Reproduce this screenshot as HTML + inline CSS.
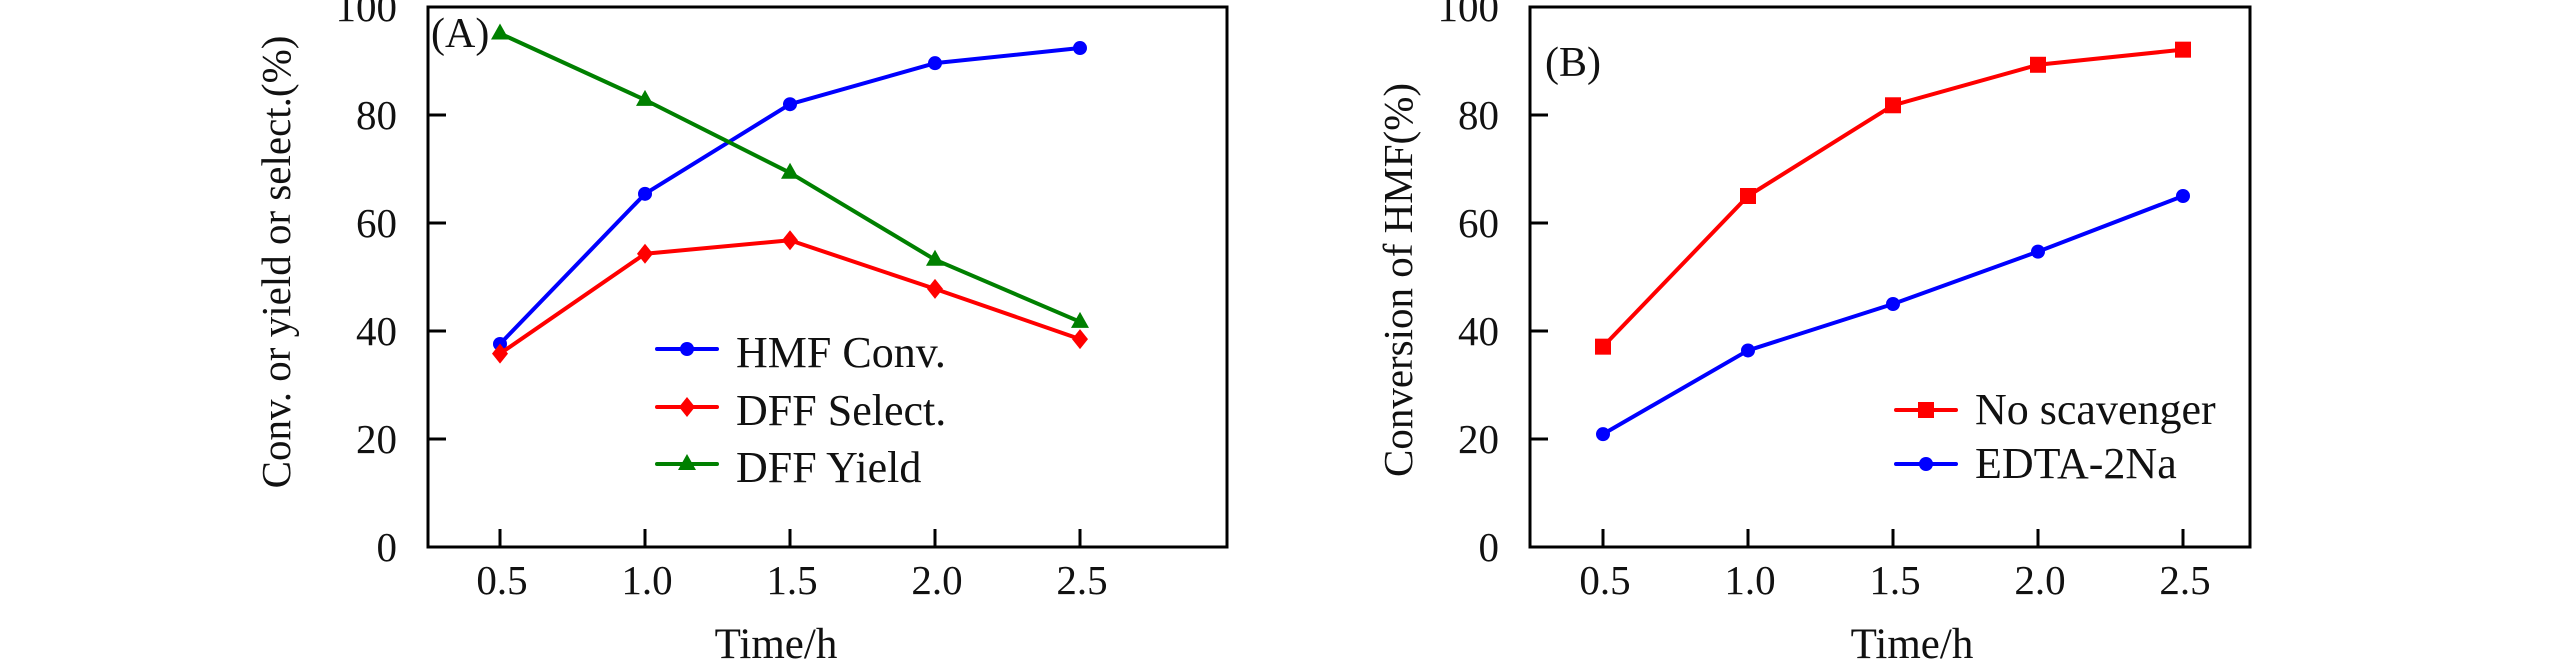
<!DOCTYPE html>
<html><head><meta charset="utf-8"><style>
html,body{margin:0;padding:0;background:#fff}
svg{display:block}
text{font-family:"Liberation Serif",serif;fill:#111}
</style></head><body>
<svg id="chart" width="2566" height="664" viewBox="0 0 2566 664" xmlns="http://www.w3.org/2000/svg"></svg>
<script>
const timesA = [0.5, 1.0, 1.5, 2.0, 2.5];
const hmfConv = [37.6, 65.4, 82.0, 89.6, 92.4];
const dffSelect = [35.8, 54.3, 56.8, 47.8, 38.5];
const dffYield = [95.1, 82.8, 69.3, 53.2, 41.7];
const timesB = [0.5, 1.0, 1.5, 2.0, 2.5];
const noScavenger = [37.1, 65.0, 81.8, 89.3, 92.1];
const edta = [20.9, 36.4, 45.0, 54.7, 65.0];
const yTicks = [0, 20, 40, 60, 80, 100];
const xTicks = ['0.5', '1.0', '1.5', '2.0', '2.5'];

const NS = 'http://www.w3.org/2000/svg';
const svg = document.getElementById('chart');
function el(tag, attrs, parent) {
  const e = document.createElementNS(NS, tag);
  for (const k in attrs) e.setAttribute(k, attrs[k]);
  (parent || svg).appendChild(e);
  return e;
}
function marker(g, type, x, y, color) {
  let m;
  if (type === 'circle') m = el('circle', {cx: x, cy: y, r: 7, fill: color}, g);
  else if (type === 'diamond') m = el('polygon', {points: `${x},${y-10} ${x+8},${y} ${x},${y+10} ${x-8},${y}`, fill: color}, g);
  else if (type === 'triangle') m = el('polygon', {points: `${x},${y-10} ${x+9},${y+6} ${x-9},${y+6}`, fill: color}, g);
  else m = el('rect', {x: x-8, y: y-8, width: 16, height: 16, fill: color}, g);
  return m;
}
function panel(cfg) {
  const g = el('g', {});
  
  
  const L = cfg.left, R = cfg.right, T = 7, B = 547;
  const xs = v => cfg.x05 + (v - 0.5) / 0.5 * 145;
  const ys = v => B - v / 100 * (B - T);
  const frame = el('rect', {x: L, y: T, width: R - L, height: B - T, fill: 'none', stroke: '#000', 'stroke-width': 3}, g);
  
  
  yTicks.forEach(v => {
    const y = ys(v);
    if (v > 0 && v < 100) {
      const t = el('line', {x1: L, x2: L + 18, y1: y, y2: y, stroke: '#000', 'stroke-width': 3}, g);
      
      
    }
    const lb = el('text', {x: L - 31, y: y + 14, 'text-anchor': 'end', 'font-size': 41}, g);
    lb.textContent = v;
    
    
  });
  xTicks.forEach(s => {
    const x = xs(parseFloat(s));
    const t = el('line', {x1: x, x2: x, y1: B, y2: B - 18, stroke: '#000', 'stroke-width': 3}, g);
    
    
    const lb = el('text', {x: x + 2, y: 594, 'text-anchor': 'middle', 'font-size': 41}, g);
    lb.textContent = s;
    
    
  });
  const xt = el('text', {x: cfg.xtitleX, y: 658, 'text-anchor': 'middle', 'font-size': 43}, g);
  xt.textContent = 'Time/h';
  
  
  const yt = el('text', {x: 0, y: 0, 'text-anchor': 'middle', 'font-size': 41, transform: `translate(${cfg.ytitleX},${cfg.ytitleY}) rotate(-90)`}, g);
  yt.textContent = cfg.ytitle;
  
  
  const pl = el('text', {x: cfg.labelX, y: cfg.labelY, 'font-size': 42}, g);
  pl.textContent = cfg.label;
  
  
  cfg.series.forEach((s, i) => {
    const sg = el('g', {}, g);
    
    
    const pts = s.values.map((v, j) => [xs(cfg.times[j]), ys(v)]);
    const line = el('polyline', {points: pts.map(p => p.join(',')).join(' '), fill: 'none', stroke: s.color, 'stroke-width': 4, 'stroke-linejoin': 'round'}, sg);
    
    
    pts.forEach(p => {
      const m = marker(sg, s.marker, p[0], p[1], s.color);
      
      
    });
    const ly = cfg.legendY[i];
    const lg = el('g', {}, g);
    
    
    el('line', {x1: cfg.legendX, x2: cfg.legendX + 60, y1: ly, y2: ly, stroke: s.color, 'stroke-width': 4, 'stroke-linecap': 'round'}, lg);
    marker(lg, s.marker, cfg.legendX + 30, ly, s.color);
    const lt = el('text', {x: cfg.legendX + 79, y: ly + cfg.textDy, 'font-size': 44}, lg);
    lt.textContent = s.label;
  });
}
panel({name: 'panel-a', left: 428, right: 1227, x05: 500, times: timesA,
  xtitleX: 776, ytitle: 'Conv. or yield or select.(%)', ytitleX: 290, ytitleY: 262,
  label: '(A)', labelX: 431, labelY: 47, legendX: 657, legendY: [349, 407, 464], textDy: 18,
  series: [
    {key: 'hmf-conv', label: 'HMF Conv.', values: hmfConv, color: '#0000ff', marker: 'circle'},
    {key: 'dff-select', label: 'DFF Select.', values: dffSelect, color: '#ff0000', marker: 'diamond'},
    {key: 'dff-yield', label: 'DFF Yield', values: dffYield, color: '#008000', marker: 'triangle'}
  ]});
panel({name: 'panel-b', left: 1530, right: 2250, x05: 1603, times: timesB,
  xtitleX: 1912, ytitle: 'Conversion of HMF(%)', ytitleX: 1412, ytitleY: 280,
  label: '(B)', labelX: 1545, labelY: 76, legendX: 1896, legendY: [410, 464], textDy: 14,
  series: [
    {key: 'no-scavenger', label: 'No scavenger', values: noScavenger, color: '#ff0000', marker: 'square'},
    {key: 'edta-2na', label: 'EDTA-2Na', values: edta, color: '#0000ff', marker: 'circle'}
  ]});
</script>
</body></html>
